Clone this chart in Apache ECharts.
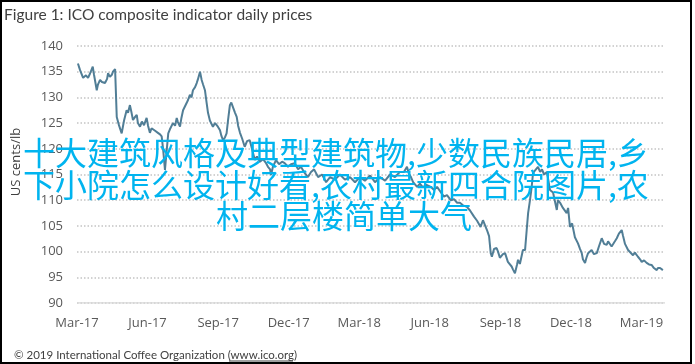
<!DOCTYPE html>
<html><head><meta charset="utf-8">
<script src="https://cdn.jsdelivr.net/npm/echarts@6/dist/echarts.min.js"></script>
<style>html,body{margin:0;padding:0;background:#fff}#c{width:695px;height:364px}</style>
</head><body><div id="c"></div>
<script>
const tickLabels = ['Mar-17','Jun-17','Sep-17','Dec-17','Mar-18','Jun-18','Sep-18','Dec-18','Mar-19'];
// months since 1 Mar 2017
const months = [0.04,0.13,0.26,0.38,0.47,0.55,0.67,0.72,0.84,0.89,0.98,1.06,1.19,1.28,1.32,1.40,1.48,1.53,1.62,1.69,1.79,1.90,2.00,2.11,2.17,2.25,2.32,2.38,2.47,2.54,2.59,2.68,2.76,2.85,2.96,3.02,3.10,3.17,3.23,3.32,3.44,3.53,3.60,3.66,3.74,3.81,3.88,3.95,4.08,4.17,4.24,4.29,4.38,4.44,4.51,4.59,4.66,4.72,4.80,4.87,4.93,5.02,5.09,5.14,5.23,5.30,5.36,5.44,5.51,5.57,5.65,5.78,5.87,5.94,5.99,6.08,6.14,6.21,6.29,6.36,6.42,6.50,6.56,6.63,6.72,6.79,6.85,6.93,7.02,7.13,7.23,7.34,7.44,7.56,7.65,7.78,7.91,8.04,8.12,8.21,8.25,8.33,8.46,8.59,8.72,8.83,8.97,9.10,9.26,9.40,9.52,9.68,9.82,9.95,10.08,10.25,10.42,10.59,10.76,10.97,11.18,11.39,11.61,11.82,12.03,12.24,12.46,12.67,12.88,13.10,13.31,13.52,13.73,13.90,14.03,14.12,14.19,14.29,14.46,14.58,14.71,14.84,15.04,15.18,15.31,15.43,15.60,15.73,15.89,16.03,16.16,16.28,16.41,16.58,16.71,16.88,17.01,17.16,17.26,17.43,17.52,17.59,17.64,17.73,17.84,17.90,17.98,18.11,18.20,18.32,18.48,18.54,18.62,18.71,18.75,18.83,18.91,18.96,19.05,19.12,19.18,19.26,19.33,19.39,19.47,19.60,19.69,19.77,19.86,19.98,20.11,20.24,20.40,20.45,20.54,20.66,20.82,20.88,20.96,21.05,21.17,21.30,21.39,21.46,21.51,21.60,21.66,21.73,21.81,21.88,21.98,22.10,22.19,22.31,22.41,22.52,22.58,22.66,22.73,22.79,22.87,22.95,23.04,23.16,23.21,23.30,23.43,23.51,23.64,23.72,23.85,23.94,24.01,24.11,24.22,24.32,24.43,24.53,24.65,24.70,24.79,24.91];
const prices = [136.6,135.3,133.8,134.3,133.8,134.6,136.0,134.5,131.4,132.5,133.4,133.0,132.8,133.6,134.7,134.0,134.4,135.0,135.5,126.2,124.5,123.0,125.5,127.5,127.0,128.5,127.0,125.6,126.2,126.6,125.0,124.3,125.3,124.6,126.0,124.5,123.1,124.0,124.3,123.5,123.1,122.8,122.4,120.0,115.9,119.5,123.0,123.8,125.0,124.5,126.0,125.2,124.3,126.0,127.5,127.8,128.9,129.5,130.5,130.0,131.4,132.0,132.8,133.5,135.0,133.4,132.5,131.4,129.0,127.0,125.5,124.3,125.0,125.3,124.3,123.6,122.5,121.7,122.2,123.0,125.5,128.5,129.0,128.9,127.0,126.2,124.5,123.1,122.0,120.4,121.5,121.7,120.0,117.8,118.5,117.5,118.0,117.2,116.5,116.0,114.9,116.5,117.8,117.0,117.5,117.2,116.5,117.0,117.2,116.0,116.5,115.3,114.5,115.5,116.0,114.5,115.0,113.5,114.5,114.0,115.0,114.0,114.5,113.5,114.5,113.8,114.8,113.5,114.5,113.8,115.0,114.5,115.5,115.5,116.5,115.0,114.6,113.5,112.6,113.2,112.5,113.0,112.6,112.0,112.6,111.8,110.7,111.0,110.0,110.2,109.5,109.5,109.0,108.7,108.0,106.8,106.0,104.8,106.1,104.2,103.0,99.7,99.0,100.5,100.7,100.0,98.8,99.5,99.7,98.0,97.1,96.5,95.8,97.5,98.4,97.6,97.4,100.3,100.3,104.2,107.5,110.0,112.5,115.3,115.3,116.5,115.5,116.0,115.0,115.5,112.0,111.5,108.1,110.0,109.5,108.5,107.5,108.5,104.8,105.5,102.8,101.6,100.5,99.7,98.5,97.8,98.8,99.7,100.0,100.3,99.5,99.7,101.0,102.6,101.5,101.3,102.0,102.3,101.0,101.3,102.0,102.6,103.5,104.2,103.2,101.5,100.3,100.0,99.3,99.8,99.0,98.5,98.0,98.3,97.8,97.5,97.4,96.8,96.4,96.8,96.8,96.4];
const titleText = 'Figure 1: ICO composite indicator daily prices';
const yName = 'US cents/lb';
const footerText = '© 2019 International Coffee Organization (www.ico.org)';
const overlayLines = ['十大建筑风格及典型建筑物,少数民族民居,乡','下小院怎么设计好看,农村最新四合院图片,农','村二层楼简单大气'];

const data = months.map((m,i)=>[m, prices[i]]);
const chart = echarts.init(document.getElementById('c'), null, {renderer:'canvas'});
const cyan = '#00b4ef';
chart.setOption({
  animation:false,
  backgroundColor:'#ffffff',
  grid:{left:77, top:46, width:588, height:257, containLabel:false},
  xAxis:{type:'value', min:0, max:25, interval:3,
    axisLine:{show:false}, axisTick:{show:false}, splitLine:{show:false},
    axisLabel:{color:'#595959', fontFamily:'Open Sans', fontSize:13, margin:14,
      formatter:v=> (v%3===0 && tickLabels[v/3]!==undefined) ? tickLabels[v/3] : ''}},
  yAxis:{type:'value', min:90, max:140, interval:5,
    axisLine:{show:false}, axisTick:{show:false},
    splitLine:{show:true, lineStyle:{color:'#c4c4c4', type:[1.5,2], width:1.5}},
    axisLabel:{color:'#595959', fontFamily:'Open Sans', fontSize:13, margin:14}},
  series:[{type:'line', data:data, showSymbol:false, smooth:false,
    lineStyle:{color:'#517e96', width:2}, z:3},
    {type:'line', data:[[0,90],[25,90]], showSymbol:false, silent:true,
    lineStyle:{color:'#d9d9d9', width:1.5}, z:2}],
  graphic:[
    {type:'rect', shape:{x:1,y:1,width:690,height:362}, style:{fill:null, stroke:'#000', lineWidth:2}, z:100},
    {type:'text', x:4, y:15, style:{text:titleText, font:'15.5px Lato', fill:'#404040', textVerticalAlign:'middle'}},
    {type:'text', x:16, y:162, rotation:Math.PI/2, style:{text:yName, font:'13px Open Sans', fill:'#404040', textAlign:'center', textVerticalAlign:'middle'}},
    {type:'text', x:14, y:355, style:{text:footerText, font:'11.5px Lato', fill:'#404040', textVerticalAlign:'middle'}},
    {type:'line', shape:{x1:229,y1:361,x2:293,y2:361}, style:{stroke:'#404040', lineWidth:1}},
    {type:'text', x:23, y:153, z:50, style:{text:overlayLines[0], font:'32px "Noto Sans CJK SC"', fill:cyan, textVerticalAlign:'middle'}},
    {type:'text', x:23, y:185, z:50, style:{text:overlayLines[1], font:'32px "Noto Sans CJK SC"', fill:cyan, textVerticalAlign:'middle'}},
    {type:'text', x:216, y:216, z:50, style:{text:overlayLines[2], font:'32px "Noto Sans CJK SC"', fill:cyan, textVerticalAlign:'middle'}}
  ]
});
</script></body></html>
